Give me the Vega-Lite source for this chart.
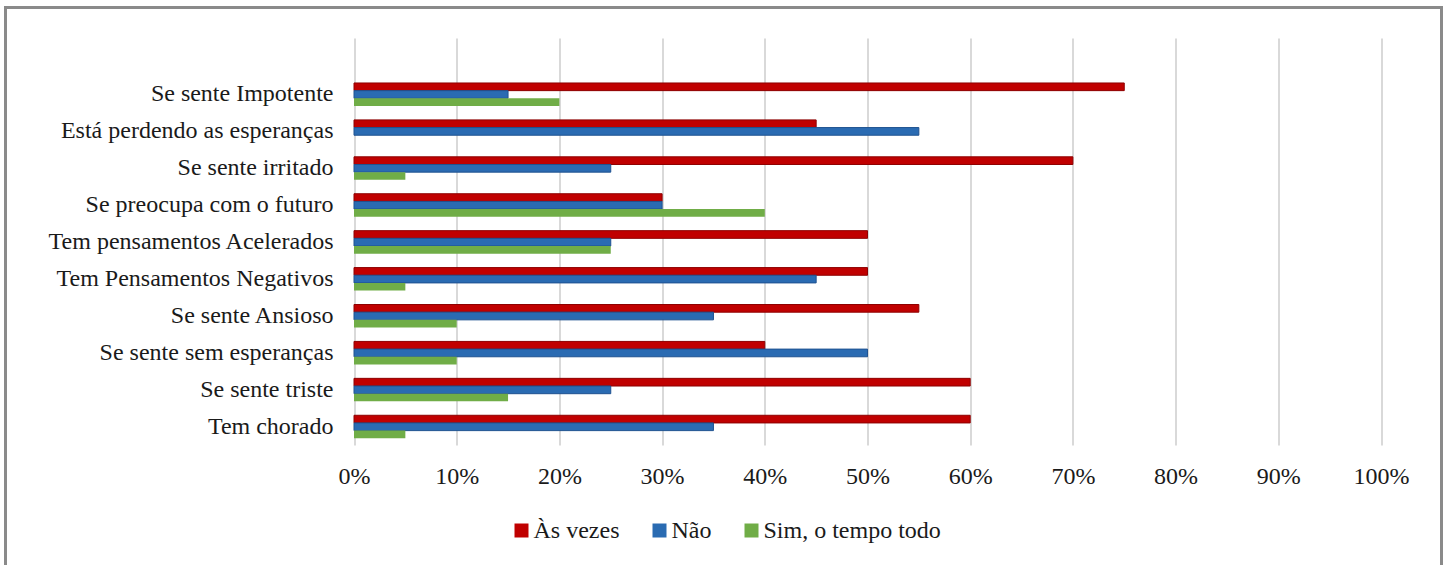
{
  "$schema": "https://vega.github.io/schema/vega-lite/v6.json",
  "width": 1436,
  "height": 562,
  "autosize": {"type": "none"},
  "padding": {"left": 5.5, "top": 7.5, "right": 3.5, "bottom": 0},
  "config": {
    "font": "Liberation Serif",
    "view": {"stroke": "#8a8a8a", "strokeWidth": 3}
  },
  "data": {
    "values": [
      {"item": "Se sente Impotente", "resposta": "Às vezes", "pct": 0.75},
      {"item": "Se sente Impotente", "resposta": "Não", "pct": 0.15},
      {"item": "Se sente Impotente", "resposta": "Sim, o tempo todo", "pct": 0.20},
      {"item": "Está perdendo as esperanças", "resposta": "Às vezes", "pct": 0.45},
      {"item": "Está perdendo as esperanças", "resposta": "Não", "pct": 0.55},
      {"item": "Está perdendo as esperanças", "resposta": "Sim, o tempo todo", "pct": 0.0},
      {"item": "Se sente irritado", "resposta": "Às vezes", "pct": 0.70},
      {"item": "Se sente irritado", "resposta": "Não", "pct": 0.25},
      {"item": "Se sente irritado", "resposta": "Sim, o tempo todo", "pct": 0.05},
      {"item": "Se preocupa com o futuro", "resposta": "Às vezes", "pct": 0.30},
      {"item": "Se preocupa com o futuro", "resposta": "Não", "pct": 0.30},
      {"item": "Se preocupa com o futuro", "resposta": "Sim, o tempo todo", "pct": 0.40},
      {"item": "Tem pensamentos Acelerados", "resposta": "Às vezes", "pct": 0.50},
      {"item": "Tem pensamentos Acelerados", "resposta": "Não", "pct": 0.25},
      {"item": "Tem pensamentos Acelerados", "resposta": "Sim, o tempo todo", "pct": 0.25},
      {"item": "Tem Pensamentos Negativos", "resposta": "Às vezes", "pct": 0.50},
      {"item": "Tem Pensamentos Negativos", "resposta": "Não", "pct": 0.45},
      {"item": "Tem Pensamentos Negativos", "resposta": "Sim, o tempo todo", "pct": 0.05},
      {"item": "Se sente Ansioso", "resposta": "Às vezes", "pct": 0.55},
      {"item": "Se sente Ansioso", "resposta": "Não", "pct": 0.35},
      {"item": "Se sente Ansioso", "resposta": "Sim, o tempo todo", "pct": 0.10},
      {"item": "Se sente sem esperanças", "resposta": "Às vezes", "pct": 0.40},
      {"item": "Se sente sem esperanças", "resposta": "Não", "pct": 0.50},
      {"item": "Se sente sem esperanças", "resposta": "Sim, o tempo todo", "pct": 0.10},
      {"item": "Se sente triste", "resposta": "Às vezes", "pct": 0.60},
      {"item": "Se sente triste", "resposta": "Não", "pct": 0.25},
      {"item": "Se sente triste", "resposta": "Sim, o tempo todo", "pct": 0.15},
      {"item": "Tem chorado", "resposta": "Às vezes", "pct": 0.60},
      {"item": "Tem chorado", "resposta": "Não", "pct": 0.35},
      {"item": "Tem chorado", "resposta": "Sim, o tempo todo", "pct": 0.05}
    ]
  },
  "mark": {"type": "bar", "strokeWidth": 1},
  "encoding": {
    "y": {
      "field": "item",
      "type": "nominal",
      "sort": [
        "Se sente Impotente",
        "Está perdendo as esperanças",
        "Se sente irritado",
        "Se preocupa com o futuro",
        "Tem pensamentos Acelerados",
        "Tem Pensamentos Negativos",
        "Se sente Ansioso",
        "Se sente sem esperanças",
        "Se sente triste",
        "Tem chorado"
      ],
      "scale": {"range": [30.5, 437.5], "paddingInner": 0.377, "paddingOuter": 0.7, "align": 0.87},
      "axis": {
        "title": null,
        "domain": false,
        "ticks": false,
        "grid": false,
        "offset": -348.5,
        "labelPadding": 21,
        "labelFont": "Liberation Serif",
        "labelFontSize": 24,
        "labelColor": "#1a1a1a",
        "labelLimit": 0
      }
    },
    "yOffset": {
      "field": "resposta",
      "type": "nominal",
      "sort": ["Às vezes", "Não", "Sim, o tempo todo"],
      "scale": {"paddingInner": 0, "paddingOuter": 0}
    },
    "x": {
      "field": "pct",
      "type": "quantitative",
      "stack": null,
      "scale": {"domain": [0, 1], "range": [348.5, 1375.5], "nice": false, "zero": true},
      "axis": {
        "orient": "top",
        "title": null,
        "format": ".0%",
        "values": [0, 0.1, 0.2, 0.3, 0.4, 0.5, 0.6, 0.7, 0.8, 0.9, 1],
        "domain": false,
        "ticks": false,
        "grid": true,
        "gridColor": "#d9d9d9",
        "gridWidth": 2,
        "offset": -437.5,
        "labelPadding": -38,
        "labelBaseline": "alphabetic",
        "labelFont": "Liberation Serif",
        "labelFontSize": 24,
        "labelColor": "#1a1a1a",
        "labelFlush": false,
        "labelOverlap": false
      }
    },
    "color": {
      "field": "resposta",
      "type": "nominal",
      "sort": ["Às vezes", "Não", "Sim, o tempo todo"],
      "scale": {
        "domain": ["Às vezes", "Não", "Sim, o tempo todo"],
        "range": ["#c00000", "#2a6bb2", "#70ad47"]
      },
      "legend": {
        "orient": "none",
        "legendX": 504,
        "legendY": 511,
        "direction": "horizontal",
        "title": null,
        "padding": 0,
        "symbolType": "square",
        "symbolSize": 196,
        "symbolStrokeWidth": 0,
        "labelFont": "Liberation Serif",
        "labelFontSize": 24,
        "labelColor": "#1a1a1a",
        "labelOffset": 0,
        "labelLimit": 0,
        "columnPadding": 28
      }
    },
    "stroke": {
      "field": "resposta",
      "type": "nominal",
      "scale": {
        "domain": ["Às vezes", "Não", "Sim, o tempo todo"],
        "range": ["#8e0000", "#1f5290", "transparent"]
      },
      "legend": null
    }
  }
}
